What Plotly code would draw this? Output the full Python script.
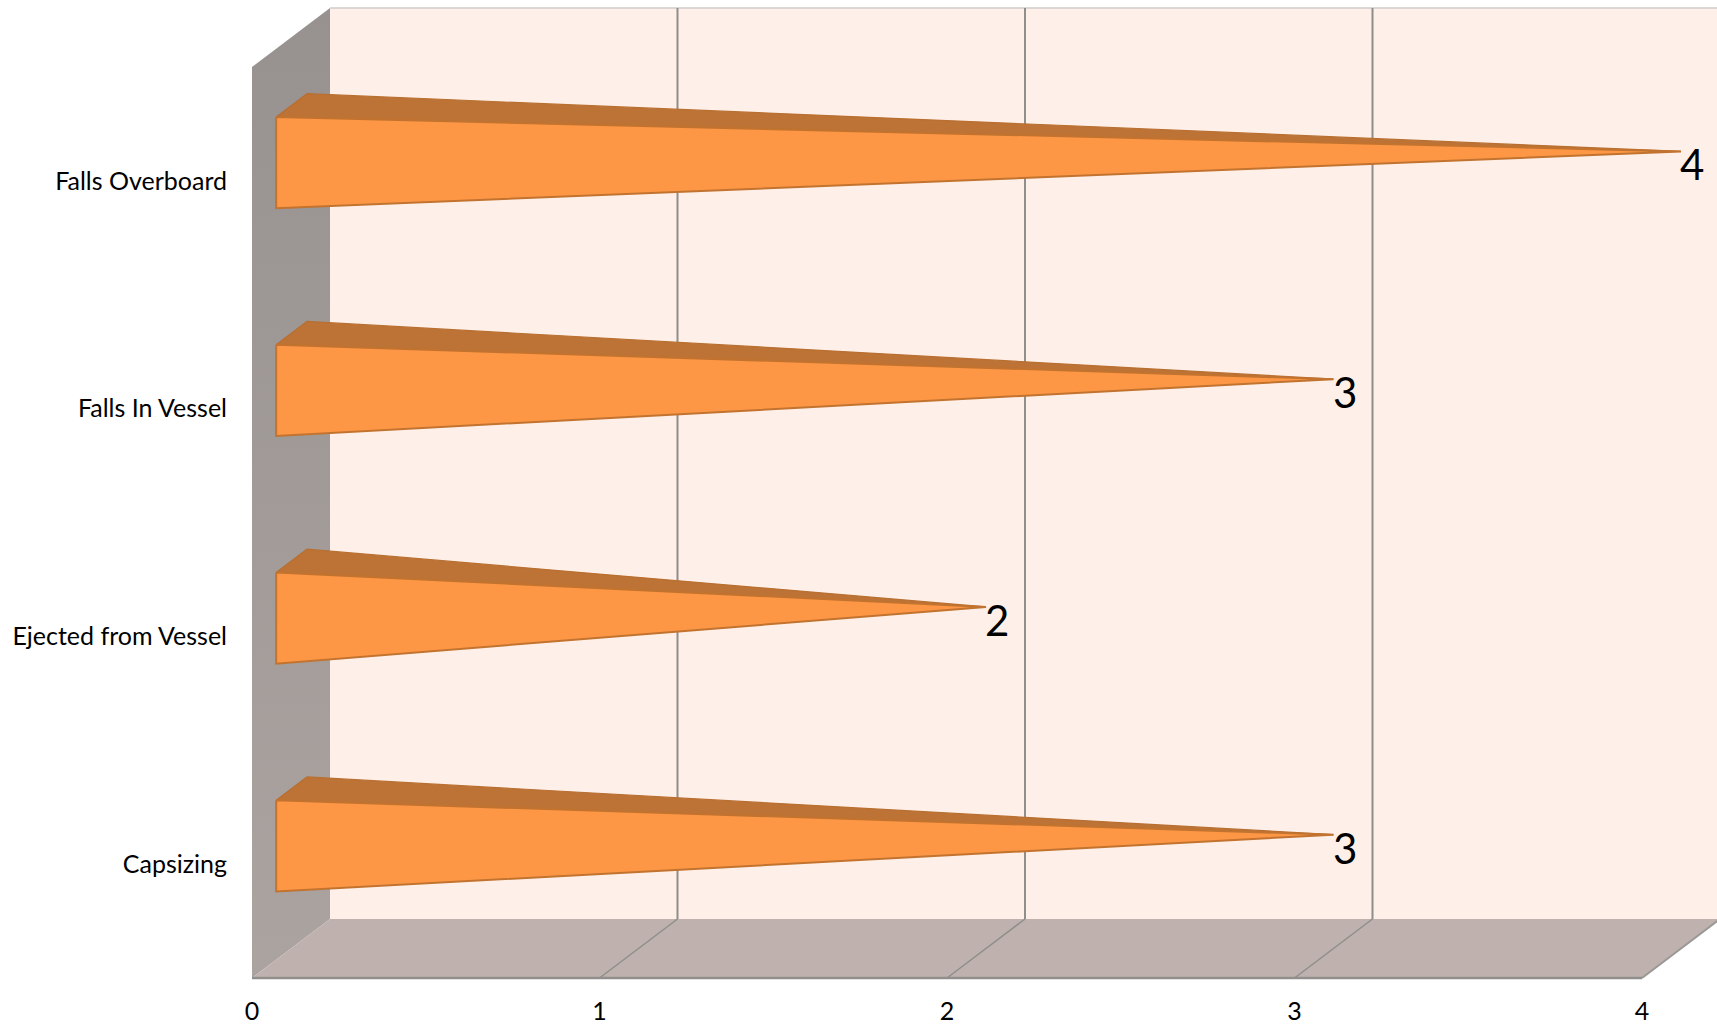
import plotly.graph_objects as go

categories = ["Capsizing", "Ejected from Vessel", "Falls In Vessel", "Falls Overboard"]
values = [3, 2, 3, 4]
value_ticks = [0, 1, 2, 3, 4]

W, H = 1717, 1024
L, R, T, B = 240, 0, 0, 34
PX_X, PX_Y = 347.5, 227.75      # pixels per value unit / per category
X0_PX, Y0_PX = 252, 978         # page pixel of the origin on the front plane
DEPTH_X, DEPTH_Y = 78 / PX_X, 59 / PX_Y   # oblique offset of the back plane, in data units
CAT_TOP = 4
FONT = "Lato, Carlito, Calibri"


def P(v, c, d=0.0):
    """Oblique projection: value, category position, depth (0 front, 1 back)."""
    return v + d * DEPTH_X, c + d * DEPTH_Y


def poly(points, fill, line=None, width=0, **kw):
    pts = [P(*p) for p in points]
    pts.append(pts[0])
    return go.Scatter(
        x=[p[0] for p in pts], y=[p[1] for p in pts], mode="lines", fill="toself",
        fillcolor=fill, line=dict(color=line or fill, width=width), hoverinfo="skip",
        showlegend=False, **kw)


def seg(a, b, color, width):
    pa, pb = P(*a), P(*b)
    return go.Scatter(x=[pa[0], pb[0]], y=[pa[1], pb[1]], mode="lines",
                      line=dict(color=color, width=width), hoverinfo="skip", showlegend=False)


fig = go.Figure()
vmax = value_ticks[-1]
far = vmax + 0.5

# back wall
fig.add_trace(poly([(0, 0, 1), (far, 0, 1), (far, CAT_TOP, 1), (0, CAT_TOP, 1)], "#FEEFE8"))
fig.add_trace(seg((0, CAT_TOP, 1), (far, CAT_TOP, 1), "#CFCBC8", 1.5))
# left wall
fig.add_trace(go.Scatter(
    x=[P(0, 0, 0)[0], P(0, 0, 1)[0], P(0, CAT_TOP, 1)[0], P(0, CAT_TOP, 0)[0], P(0, 0, 0)[0]],
    y=[P(0, 0, 0)[1], P(0, 0, 1)[1], P(0, CAT_TOP, 1)[1], P(0, CAT_TOP, 0)[1], P(0, 0, 0)[1]],
    mode="lines", fill="toself", line=dict(width=0, color="#A09A96"),
    fillgradient=dict(type="vertical", colorscale=[[0, "#ABA3A0"], [1, "#979290"]]),
    hoverinfo="skip", showlegend=False))
# floor
fig.add_trace(poly([(0, 0, 0), (vmax, 0, 0), (vmax, 0, 1), (0, 0, 1)], "#BFB2AE"))
# grid lines on the wall and the floor
for t in value_ticks[1:-1]:
    fig.add_trace(seg((t, 0, 1), (t, CAT_TOP, 1), "#8F8E8C", 2))
    fig.add_trace(seg((t, 0, 0), (t, 0, 1), "#8F8E8C", 1.5))
fig.add_trace(seg((vmax, 0, 0), (vmax, 0, 1), "#9A9896", 2))
fig.add_trace(seg((0, 0, 0), (vmax, 0, 0), "#908F8D", 2.5))

# cones
BACK, FRONT, MID = 0.705, 0.31, 0.50
HALF = 0.20
for i, v in enumerate(values):
    c = i + 0.5
    apex = (v, c, MID)
    fig.add_trace(poly([(0, c + HALF, FRONT), (0, c + HALF, BACK), apex],
                       "#BD7335", "#B86F30", 1.2))
    fig.add_trace(poly([(0, c + HALF, FRONT), apex, (0, c - HALF, FRONT)],
                       "#FD9745", "#C2732F", 2))
    ax, ay = P(*apex)
    fig.add_annotation(x=ax, y=ay, text=str(v), showarrow=False, xshift=11, yshift=-13,
                       font=dict(family=FONT, size=42, color="#000000"))

fig.update_layout(
    width=W, height=H, margin=dict(l=L, r=R, t=T, b=B, pad=0, autoexpand=False),
    paper_bgcolor="#FFFFFF", plot_bgcolor="#FFFFFF", showlegend=False,
    xaxis=dict(range=[(L - X0_PX) / PX_X, (W - R - X0_PX) / PX_X], tickvals=value_ticks,
               ticktext=[str(t) for t in value_ticks], showgrid=False, zeroline=False,
               showline=False, ticks="", ticklabelstandoff=4, fixedrange=True,
               tickfont=dict(family=FONT, size=25, color="#000000")),
    yaxis=dict(range=[(Y0_PX - (H - B)) / PX_Y, (Y0_PX - T) / PX_Y],
               tickvals=[i + 0.5 for i in range(len(categories))], ticktext=categories,
               showgrid=False, zeroline=False, showline=False, ticks="",
               ticklabelstandoff=12, fixedrange=True,
               tickfont=dict(family=FONT, size=25, color="#000000")),
)

fig.write_html("out.html", config={"displayModeBar": False},
               post_script="document.body.style.margin='0';document.body.style.overflow='hidden';")
